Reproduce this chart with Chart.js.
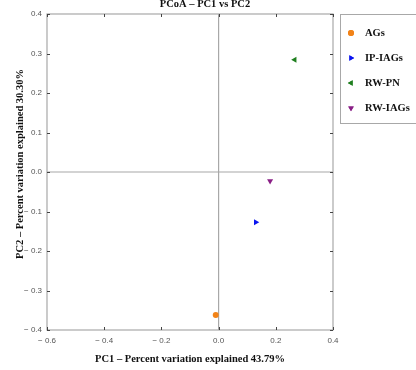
<!DOCTYPE html>
<html>
<head>
<meta charset="utf-8">
<script src="https://cdn.jsdelivr.net/npm/chart.js@4"></script>
<style>
  html, body { margin: 0; padding: 0; background: #fff; }
  #wrap { width: 416px; height: 370px; }
</style>
</head>
<body>
<div id="wrap"><canvas id="chart-pcoa" width="416" height="370"></canvas></div>
<script>
    // groups and their PC1 / PC2 coordinates
    var groups = ["AGs", "IP-IAGs", "RW-PN", "RW-IAGs"];
    var pc1 = [-0.01, 0.13, 0.266, 0.18];
    var pc2 = [-0.362, -0.127, 0.284, -0.023];
    var colors = ["#f28318", "#0a14f0", "#1f7f1f", "#8a1f86"];
    var shapes = ["circle", "triangle", "triangle", "triangle"];
    var rotations = [0, 90, -90, 180];
    var xTicks = [-0.6, -0.4, -0.2, 0.0, 0.2, 0.4];
    var yTicks = [-0.4, -0.3, -0.2, -0.1, 0.0, 0.1, 0.2, 0.3, 0.4];
    var chartTitle = "PCoA \u2013 PC1 vs PC2";
    var yTitle = "PC2 \u2013 Percent variation explained 30.30%";

    var serif = "'Liberation Serif', 'Times New Roman', serif";
    var sans = "'Liberation Sans', Arial, sans-serif";

    function fmt(v) {
        v = Math.round(v * 10) / 10;
        return v < 0 ? "\u2212 " + Math.abs(v).toFixed(1) : v.toFixed(1);
    }

    var datasets = groups.map(function(g, i) {
        return {
            label: g,
            data: [{x: pc1[i], y: pc2[i]}],
            backgroundColor: colors[i],
            borderColor: colors[i],
            pointStyle: shapes[i],
            rotation: rotations[i],
            pointRadius: i == 0 ? 3 : 3.5,
            borderWidth: 0
        };
    });

    // frame, zero lines, inner tick marks, titles, boxed legend
    var frame = {
        id: "frame",
        beforeDatasetsDraw: function(chart) {
            var ctx = chart.ctx, a = chart.chartArea;
            var xs = chart.scales.x, ys = chart.scales.y;
            ctx.save();
            ctx.strokeStyle = "#a8a8a8";
            ctx.lineWidth = 1.2;
            var x0 = xs.getPixelForValue(0), y0 = ys.getPixelForValue(0);
            ctx.beginPath();
            ctx.moveTo(x0, a.top); ctx.lineTo(x0, a.bottom);
            ctx.moveTo(a.left, y0); ctx.lineTo(a.right, y0);
            ctx.stroke();
            ctx.strokeRect(a.left, a.top, a.right - a.left, a.bottom - a.top);
            ctx.strokeStyle = "#444";
            ctx.lineWidth = 1;
            ctx.beginPath();
            xTicks.forEach(function(v) {
                var p = Math.round(xs.getPixelForValue(v)) + 0.5;
                ctx.moveTo(p, a.bottom); ctx.lineTo(p, a.bottom - 3);
                ctx.moveTo(p, a.top); ctx.lineTo(p, a.top + 3);
            });
            yTicks.forEach(function(v) {
                var p = Math.round(ys.getPixelForValue(v)) + 0.5;
                ctx.moveTo(a.left, p); ctx.lineTo(a.left + 3, p);
                ctx.moveTo(a.right, p); ctx.lineTo(a.right - 3, p);
            });
            ctx.stroke();
            ctx.restore();
        },
        afterDraw: function(chart) {
            var ctx = chart.ctx;
            ctx.save();
            ctx.fillStyle = "#111";
            ctx.font = "bold 10.5px " + serif;
            ctx.textAlign = "center";
            ctx.textBaseline = "alphabetic";
            ctx.fillText(chartTitle, 205, 7);

            ctx.save();
            ctx.translate(23, 164);
            ctx.rotate(-Math.PI / 2);
            ctx.fillText(yTitle, 0, 0);
            ctx.restore();

            ctx.textAlign = "left";
            ctx.textBaseline = "middle";
            ctx.strokeStyle = "#a8a8a8";
            ctx.lineWidth = 1;
            ctx.strokeRect(340.5, 14.5, 76, 109);
            groups.forEach(function(g, i) {
                var y = 33 + i * 25;
                ctx.fillStyle = colors[i];
                ctx.beginPath();
                Chart.helpers.drawPoint(ctx, {
                    pointStyle: shapes[i], rotation: rotations[i],
                    radius: i == 0 ? 3 : 3.2, borderWidth: 0
                }, 351, y);
                ctx.fill();
                ctx.fillStyle = "#111";
                ctx.fillText(g, 365, y);
            });
            ctx.restore();
        }
    };

    var domChart = document.getElementById("chart-pcoa");
    var chartPcoa = new Chart(domChart, {
        type: "scatter",
        data: { datasets: datasets },
        plugins: [frame],
        options: {
            responsive: false,
            animation: false,
            layout: { padding: { left: 0, right: 83, top: 14, bottom: 0 } },
            plugins: {
                legend: { display: false },
                tooltip: { enabled: false },
                title: { display: false }
            },
            scales: {
                x: {
                    type: "linear",
                    min: -0.6, max: 0.4,
                    afterBuildTicks: function(s) { s.ticks = xTicks.map(function(v) { return {value: v}; }); },
                    afterFit: function(s) { s.height = 40; },
                    grid: { display: false },
                    border: { display: false },
                    ticks: { color: "#555", font: { family: sans, size: 8 }, padding: -2, maxRotation: 0,
                             callback: function(v) { return fmt(v); } },
                    title: {
                        display: true,
                        text: "PC1 \u2013 Percent variation explained 43.79%",
                        color: "#111",
                        font: { family: serif, size: 10.5, weight: "bold" },
                        padding: { top: 9 }
                    }
                },
                y: {
                    type: "linear",
                    min: -0.4, max: 0.4,
                    afterBuildTicks: function(s) { s.ticks = yTicks.map(function(v) { return {value: v}; }); },
                    afterFit: function(s) { s.width = 47; },
                    grid: { display: false },
                    border: { display: false },
                    ticks: { color: "#555", font: { family: sans, size: 8 }, padding: -3,
                             callback: function(v) { return fmt(v); } },
                    title: { display: false }
                }
            }
        }
    });
</script>
</body>
</html>
